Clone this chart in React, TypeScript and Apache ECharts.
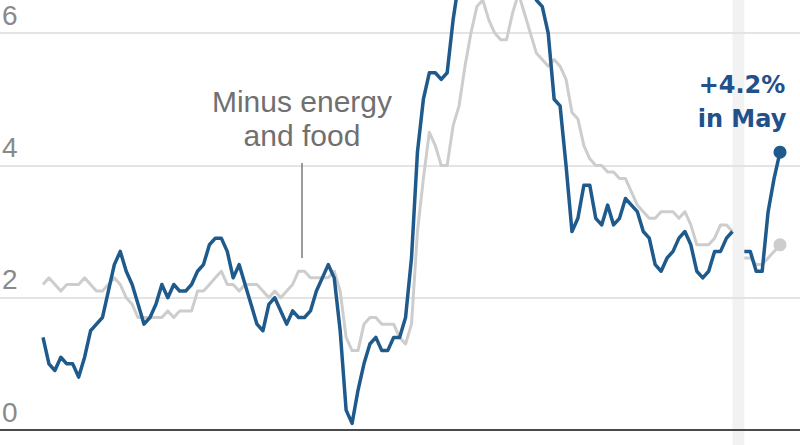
import React, { useEffect, useRef } from "react";
import * as echarts from "echarts";

// ---------- data ----------
const START_YEAR = 2016;
const MONTH_NAMES = ["Jan", "Feb", "Mar", "Apr", "May", "Jun", "Jul", "Aug", "Sep", "Oct", "Nov", "Dec"];

// Consumer prices, change from a year earlier (%), Jan 2016 – May 2026 (Oct 2025 missing)
const headline: (number | null)[] = [
  1.4, 1.0, 0.9, 1.1, 1.0, 1.0, 0.8, 1.1, 1.5, 1.6, 1.7, 2.1,
  2.5, 2.7, 2.4, 2.2, 1.9, 1.6, 1.7, 1.9, 2.2, 2.0, 2.2, 2.1,
  2.1, 2.2, 2.4, 2.5, 2.8, 2.9, 2.9, 2.7, 2.3, 2.5, 2.2, 1.9,
  1.6, 1.5, 1.9, 2.0, 1.8, 1.6, 1.8, 1.7, 1.7, 1.8, 2.1, 2.3,
  2.5, 2.3, 1.5, 0.3, 0.1, 0.6, 1.0, 1.3, 1.4, 1.2, 1.2, 1.4,
  1.4, 1.7, 2.6, 4.2, 5.0, 5.4, 5.4, 5.3, 5.4, 6.2, 6.8, 7.0,
  7.5, 7.9, 8.5, 8.3, 8.6, 9.1, 8.5, 8.3, 8.2, 7.7, 7.1, 6.5,
  6.4, 6.0, 5.0, 4.9, 4.0, 3.0, 3.2, 3.7, 3.7, 3.2, 3.1, 3.4,
  3.1, 3.2, 3.5, 3.4, 3.3, 3.0, 2.9, 2.5, 2.4, 2.6, 2.7, 2.9,
  3.0, 2.8, 2.4, 2.3, 2.4, 2.7, 2.7, 2.9, 3.0, null, 2.7, 2.7,
  2.4, 2.4, 3.3, 3.8, 4.2,
];

// Minus energy and food
const core: (number | null)[] = [
  2.2, 2.3, 2.2, 2.1, 2.2, 2.2, 2.2, 2.3, 2.2, 2.1, 2.1, 2.2,
  2.3, 2.2, 2.0, 1.9, 1.7, 1.7, 1.7, 1.7, 1.7, 1.8, 1.7, 1.8,
  1.8, 1.8, 2.1, 2.1, 2.2, 2.3, 2.4, 2.2, 2.2, 2.1, 2.2, 2.2,
  2.2, 2.1, 2.0, 2.1, 2.0, 2.1, 2.2, 2.4, 2.4, 2.3, 2.3, 2.3,
  2.3, 2.4, 2.1, 1.4, 1.2, 1.2, 1.6, 1.7, 1.7, 1.6, 1.6, 1.6,
  1.4, 1.3, 1.6, 3.0, 3.8, 4.5, 4.3, 4.0, 4.0, 4.6, 4.9, 5.5,
  6.0, 6.4, 6.5, 6.2, 6.0, 5.9, 5.9, 6.3, 6.6, 6.3, 6.0, 5.7,
  5.6, 5.5, 5.6, 5.5, 5.3, 4.8, 4.7, 4.3, 4.1, 4.0, 4.0, 3.9,
  3.9, 3.8, 3.8, 3.6, 3.4, 3.3, 3.2, 3.2, 3.3, 3.3, 3.3, 3.2,
  3.3, 3.1, 2.8, 2.8, 2.8, 2.9, 3.1, 3.1, 3.0, null, 2.6, 2.6,
  2.5, 2.5, 2.6, 2.7, 2.8,
];

const yTicks = [0, 2, 4, 6];
const gapStart = 116; // Sep 2025 (last point before missing month)
const gapEnd = 118; // Nov 2025 (first point after)
const lastLabel = ["+4.2%", "in May"];
const coreLabel = ["Minus energy", "and food"];

const categories = headline.map(
  (_, i) => `${MONTH_NAMES[i % 12]} ${START_YEAR + Math.floor(i / 12)}`
);

// ---------- style ----------
const BLUE = "#1f5a8c";
const BLUE_TEXT = "#21508a";
const GRAY = "#cdcdcd";

function toData(arr: (number | null)[], withLabel: boolean) {
  return arr.map((v, i) => {
    const item: any = { name: categories[i], value: [i, v === null ? "-" : v] };
    if (i === arr.length - 1) {
      item.symbol = "circle";
      item.symbolSize = 13;
      if (withLabel) {
        item.label = {
          show: true,
          position: "top",
          distance: 10,
          offset: [-38, 0],
          formatter: lastLabel.join("\n"),
          color: BLUE_TEXT,
          fontFamily: "DejaVu Sans",
          fontWeight: "bold",
          fontSize: 24,
          lineHeight: 34,
          align: "center",
        };
      }
    }
    return item;
  });
}

export default function App() {
  const ref = useRef<HTMLDivElement>(null);

  useEffect(() => {
    if (!ref.current) return;
    const chart = echarts.init(ref.current, null, { renderer: "svg" });
    const n = headline.length;
    const x0 = 43;
    const step = (780 - 43) / (n - 1);
    const option: any = {
      animation: false,
      backgroundColor: "#ffffff",
      grid: {
        left: 0,
        right: 0,
        top: 0,
        bottom: 15,
        containLabel: false,
        outerBoundsMode: "none",
      },
      xAxis: {
        type: "value",
        min: -x0 / step,
        max: n - 1 + 20 / step,
        show: false,
        splitLine: { show: false },
      },
      yAxis: {
        type: "value",
        min: 0,
        max: 6.5,
        interval: 2,
        axisLine: { show: false },
        axisTick: { show: false },
        splitLine: {
          show: true,
          lineStyle: {
            width: 2,
            color: ["#4a4a4a", "#e4e4e4", "#e4e4e4", "#e4e4e4", "rgba(0,0,0,0)"],
          },
        },
        axisLabel: {
          inside: true,
          margin: 2,
          verticalAlign: "bottom",
          formatter: (v: number) => (yTicks.indexOf(v) >= 0 ? String(v) : ""),
          fontSize: 28,
          lineHeight: 28,
          padding: [0, 0, 4, 0],
          color: "#8a8a8a",
          fontFamily: "Liberation Sans",
        },
      },
      series: [
        {
          name: "Minus energy and food",
          type: "line",
          data: toData(core, false),
          symbol: "none",
          showSymbol: true,
          showAllSymbol: true,
          connectNulls: false,
          lineStyle: { color: GRAY, width: 3, join: "round" },
          itemStyle: { color: GRAY },
          z: 2,
        },
        {
          name: "All items",
          type: "line",
          data: toData(headline, true),
          symbol: "none",
          showSymbol: true,
          showAllSymbol: true,
          connectNulls: false,
          lineStyle: { color: BLUE, width: 3.5, join: "round" },
          itemStyle: { color: BLUE },
          z: 3,
        },
      ],
    };
    chart.setOption(option);

    const bx1 = chart.convertToPixel({ xAxisIndex: 0 }, gapStart) as number;
    const bx2 = chart.convertToPixel({ xAxisIndex: 0 }, gapEnd) as number;
    chart.setOption({
      graphic: {
        elements: [
          {
            type: "rect",
            z: -1,
            shape: { x: bx1, y: 0, width: bx2 - bx1, height: 445 },
            style: { fill: "#f2f2f2" },
            silent: true,
          },
          {
            type: "line",
            z: 1,
            shape: { x1: 302, y1: 163, x2: 302, y2: 258 },
            style: { stroke: "#7a7a7a", lineWidth: 1.5 },
            silent: true,
          },
          {
            type: "text",
            z: 5,
            x: 302,
            y: 85,
            style: {
              text: coreLabel.join("\n"),
              fill: "#707070",
              fontSize: 30,
              fontFamily: "Liberation Sans",
              lineHeight: 33.5,
              align: "center",
              verticalAlign: "top",
              textAlign: "center",
              textVerticalAlign: "top",
            },
            silent: true,
          },
        ],
      },
    });

    return () => chart.dispose();
  }, []);

  return (
    <div
      ref={ref}
      style={{ position: "fixed", left: 0, top: 0, width: 800, height: 445 }}
    />
  );
}
